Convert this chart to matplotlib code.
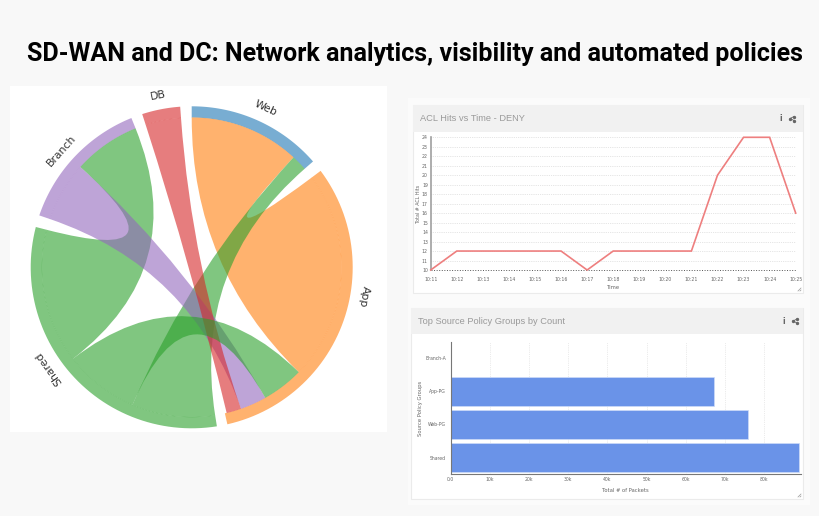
#SD-WAN slide: chord diagram plus two dashboard cards
import numpy as np
import matplotlib
matplotlib.use('Agg')
import matplotlib.pyplot as plt
from matplotlib.path import Path
from matplotlib.patches import PathPatch, Rectangle

W, H = 820, 516

title = 'SD-WAN and DC: Network analytics, visibility and automated policies'

#Chord groups, degrees clockwise from north
groups = ['Web', 'App', 'Shared', 'Branch', 'DB']
group_start = [0.0, 53.2, 171.0, 288.8, 342.1]
group_end = [48.9, 167.2, 284.5, 338.0, 355.9]
group_colors = ['tab:blue', 'tab:orange', 'tab:green', 'tab:purple', 'tab:red']
label_angle = [24.9, 99.5, 234.7, 311.8, 349.0]

#Ribbons: source arc, target arc, color
rib_src = [(0.0, 42.8), (42.8, 48.9), (312.0, 338.0), (288.8, 312.0), (342.1, 355.9), (203.3, 232.4)]
rib_tgt = [(53.2, 134.4), (171.0, 203.3), (232.4, 284.5), (150.6, 160.8), (160.8, 166.5), (134.4, 150.6)]
rib_colors = ['tab:orange', 'tab:green', 'tab:green', 'tab:purple', 'tab:red', 'tab:green']

#ACL hits
times = ['10:11', '10:12', '10:13', '10:14', '10:15', '10:16', '10:17', '10:18',
	'10:19', '10:20', '10:21', '10:22', '10:23', '10:24', '10:25']
hits = [10, 12, 12, 12, 12, 12, 10, 12, 12, 12, 12, 20, 24, 24, 16]

#Policy groups
policy_groups = ['Branch-A', 'App-PG', 'Web-PG', 'Shared']
packets = [200, 67100, 75800, 89000]
packet_ticks = [0, 10000, 20000, 30000, 40000, 50000, 60000, 70000, 80000]
packet_labels = ['0.0', '10k', '20k', '30k', '40k', '50k', '60k', '70k', '80k']

cx, cy, R = 191.7, 267.3, 161.0
r_in = R * 0.93
#ribbons run a bit into the band, gives the faint seam
r_rib = r_in + 0.15


def pt(deg, rad):
	a = np.radians(deg)
	return cx + rad * np.sin(a), cy - rad * np.cos(a)


def arc(a0, a1, rad):
	t = np.linspace(a0, a1, 60)
	return [pt(x, rad) for x in t]


def band(a0, a1):
	v = arc(a0, a1, R) + arc(a1, a0, r_in)
	c = [Path.MOVETO] + [Path.LINETO] * (len(v) - 1)
	return Path(v + [v[0]], c + [Path.CLOSEPOLY])


def ribbon(src, tgt):
	v = arc(src[0], src[1], r_rib)
	c = [Path.MOVETO] + [Path.LINETO] * (len(v) - 1)
	t = arc(tgt[0], tgt[1], r_rib)
	#quadratic through the circle centre, as d3 chord does
	v += [(cx, cy), t[0]]
	c += [Path.CURVE3, Path.CURVE3]
	v += t[1:]
	c += [Path.LINETO] * (len(t) - 1)
	v += [(cx, cy), v[0]]
	c += [Path.CURVE3, Path.CURVE3]
	return Path(v, c)


def px_axes(x0, y0, x1, y1):
	return fig.add_axes([x0 / W, 1 - y1 / H, (x1 - x0) / W, (y1 - y0) / H])


def card(x0, y0, x1, y1, head, name, ix):
	bg.add_patch(Rectangle((x0, y0), x1 - x0, y1 - y0, fc='white', ec='#ebebeb', lw=0.8))
	bg.add_patch(Rectangle((x0, y0), x1 - x0, head - y0, fc='#f1f1f1', ec='none'))
	bg.text(x0 + 7, (y0 + head) / 2, name, fontsize=6.7, color='#9a9a9a',
		family='Liberation Sans', va='center')
	#info and share icons
	iy = (y0 + head) / 2
	bg.text(ix, iy, 'i', fontsize=5.5, color='#666666', weight='bold', ha='center', va='center')
	sx = [ix + 13, ix + 9, ix + 13]
	sy = [iy - 2, iy, iy + 2]
	bg.plot(sx, sy, color='#666666', lw=0.6, marker='o', ms=1.4)
	#resize handle
	bg.plot([x1 - 5, x1 - 2], [y1 - 2, y1 - 5], color='#999999', lw=0.5)
	bg.plot([x1 - 3, x1 - 2], [y1 - 2, y1 - 3], color='#999999', lw=0.5)


def small_axes(ax):
	ax.patch.set_alpha(0)
	ax.tick_params(length=0, labelsize=3.3, labelcolor='#666666')
	for s in ax.spines.values():
		s.set_visible(False)


fig = plt.figure(figsize=(W / 100, H / 100), dpi=100, facecolor='#f8f8f8')
bg = fig.add_axes([0, 0, 1, 1])
bg.set_xlim(0, W)
bg.set_ylim(H, 0)
bg.axis('off')

bg.text(414.5, 54, title, fontsize=18, weight='bold', family='Roboto', color='black',
	ha='center', va='center')

#Chord diagram
bg.add_patch(Rectangle((10, 86), 377, 346, fc='white', ec='none'))
for s, e, col in zip(group_start, group_end, group_colors):
	bg.add_patch(PathPatch(band(s, e), fc=col, ec='none', alpha=0.6))
for s, t, col in zip(rib_src, rib_tgt, rib_colors):
	bg.add_patch(PathPatch(ribbon(s, t), fc=col, ec='none', alpha=0.6))
for name, a in zip(groups, label_angle):
	x, y = pt(a, 175)
	bg.text(x, y, name, fontsize=7.8, color='#333333', rotation=-a, rotation_mode='anchor',
		ha='center', va='center')

#lighter area behind the two cards
bg.add_patch(Rectangle((408, 98), 402, 407, fc='#fbfbfb', ec='none'))

#ACL card
card(413, 105, 803, 293, 132, 'ACL Hits vs Time - DENY', 781)
ax = px_axes(430.7, 137.3, 795.7, 270)
small_axes(ax)
ax.plot(times, hits, color='#ee7f7f', lw=1.2, solid_joinstyle='miter', clip_on=False, zorder=4)
ax.set_ylim(10, 24)
ax.set_xlim(0, len(times) - 1)
ax.set_yticks(range(10, 25))
ax.tick_params(axis='x', pad=5)
ax.tick_params(axis='y', pad=2)
ax.grid(axis='y', color='#cccccc', ls=':', lw=0.5)
ax.axhline(10, color='#555555', ls=':', lw=0.7, clip_on=False)
ax.axvline(0, color='#a0a0a0', lw=1.2, clip_on=False)
ax.set_xlabel('Time', fontsize=3.8, color='#666666', labelpad=2.5)
ax.set_ylabel('Total # ACL Hits', fontsize=3.4, color='#666666', labelpad=1)

#Policy group card
card(411.5, 308, 803, 499, 334, 'Top Source Policy Groups by Count', 784)
ax2 = px_axes(450.7, 342, 801, 474)
small_axes(ax2)
ax2.tick_params(axis='y', pad=3.5)
ax2.tick_params(axis='x', pad=2.5)
ax2.barh(policy_groups, packets, height=0.88, color='#6a93e8', edgecolor='#cddcf8', lw=0.5, zorder=2)
ax2.set_ylim(3.5, -0.5)
ax2.set_xlim(0, 89400)
ax2.set_xticks(packet_ticks, packet_labels)
ax2.grid(axis='x', color='#d8d8d8', ls=':', lw=0.5)
ax2.axvline(0, color='#777777', lw=0.8, zorder=3, clip_on=False)
ax2.axhline(3.5, color='#777777', lw=0.8, zorder=3, clip_on=False)
ax2.set_xlabel('Total # of Packets', fontsize=3.8, color='#666666', labelpad=4)
ax2.set_ylabel('Source Policy Groups', fontsize=3.8, color='#666666', labelpad=1.5)

plt.savefig('out.png', dpi=100, facecolor=fig.get_facecolor())
